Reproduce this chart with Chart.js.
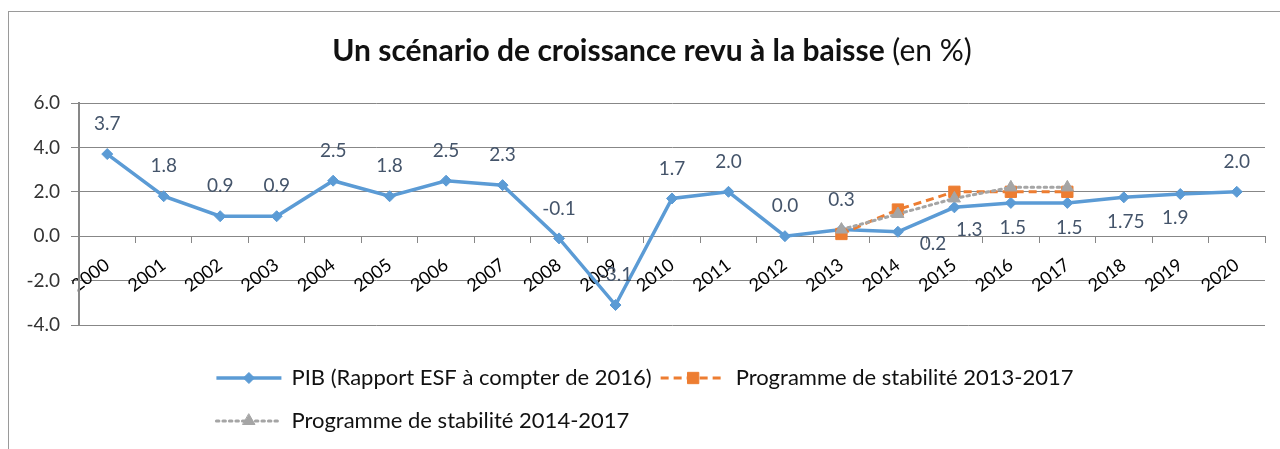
<!DOCTYPE html>
<html><head><meta charset="utf-8">
<script src="https://cdn.jsdelivr.net/npm/chart.js@4.4.0/dist/chart.umd.min.js"></script>
<style>html,body{margin:0;padding:0;background:#fff;} #wrap{width:1280px;height:449px;position:relative;}</style>
</head><body><div id="wrap"><canvas id="c" width="1280" height="449"></canvas></div>
<script>
// ---- data ----
const years = ['2000','2001','2002','2003','2004','2005','2006','2007','2008','2009','2010','2011','2012','2013','2014','2015','2016','2017','2018','2019','2020'];
const pib = [3.7,1.8,0.9,0.9,2.5,1.8,2.5,2.3,-0.1,-3.1,1.7,2.0,0.0,0.3,0.2,1.3,1.5,1.5,1.75,1.9,2.0];
const ps2013 = [null,null,null,null,null,null,null,null,null,null,null,null,null,0.1,1.2,2.0,2.0,2.0,null,null,null];
const ps2014 = [null,null,null,null,null,null,null,null,null,null,null,null,null,0.3,1.0,1.7,2.2,2.2,null,null,null];
const pibLabels = ['3.7','1.8','0.9','0.9','2.5','1.8','2.5','2.3','-0.1','-3.1','1.7','2.0','0.0','0.3','0.2','1.3','1.5','1.5','1.75','1.9','2.0'];
const yTicks = [6,4,2,0,-2,-4];
const seriesNames = ['PIB (Rapport ESF à compter de 2016)','Programme de stabilité 2013-2017','Programme de stabilité 2014-2017'];
const titleBold = 'Un scénario de croissance revu à la baisse';
const titleRest = ' (en %)';

// ---- styling (not data) ----
const FONT = "Lato, 'Liberation Sans', sans-serif";
const labelPlacement = ['a','a','a','a','a','a','a','a','a','a','a','a','a','a','br','bs','b','b','b','bl','a'];
const placeOffsets = {a:[0,-30], b:[2,25], bs:[15,23], br:[35,12], bl:[-5,24]};
const COLORS = {blue:'#5B9BD5', orange:'#ED7D31', gray:'#A5A5A5', grid:'#878787'};

const datasets = [
  {label:seriesNames[0], data:pib, borderColor:COLORS.blue, backgroundColor:COLORS.blue, borderWidth:3.5,
   pointStyle:'rectRot', pointRadius:5.5, pointBorderWidth:1, tension:0, order:3},
  {label:seriesNames[1], data:ps2013, borderColor:COLORS.orange, backgroundColor:COLORS.orange, borderWidth:3,
   borderDash:[8,5], pointStyle:'rect', pointRadius:8, pointBorderWidth:1, tension:0, order:2},
  {label:seriesNames[2], data:ps2014, borderColor:COLORS.gray, backgroundColor:COLORS.gray, borderWidth:3,
   borderDash:[2.5,4], borderCapStyle:'round', pointStyle:'triangle', pointRadius:7, pointBorderWidth:1, tension:0, order:1}
];

function drawMarker(ctx, style, r, x, y) {
  ctx.beginPath();
  if (style === 'rectRot') {
    ctx.moveTo(x, y - r); ctx.lineTo(x + r, y); ctx.lineTo(x, y + r); ctx.lineTo(x - r, y); ctx.closePath();
  } else if (style === 'rect') {
    const s = r * Math.SQRT1_2; ctx.rect(x - s, y - s, 2 * s, 2 * s);
  } else if (style === 'triangle') {
    ctx.moveTo(x, y - r); ctx.lineTo(x + r * 0.866, y + r / 2); ctx.lineTo(x - r * 0.866, y + r / 2); ctx.closePath();
  }
  ctx.fill(); ctx.stroke();
}

const decor = {
  id:'decor',
  beforeDraw(chart){
    const ctx = chart.ctx;
    ctx.save();
    ctx.fillStyle = '#fff'; ctx.fillRect(0,0,chart.width,chart.height);
    ctx.strokeStyle = '#9A9A9A'; ctx.lineWidth = 1;
    ctx.strokeRect(8.5, 11.5, chart.width + 20, chart.height + 20);
    ctx.textBaseline = 'middle';
    ctx.fillStyle = '#111';
    const fb = "bold 30px " + FONT, fr = "30px " + FONT;
    ctx.font = fb; const wb = ctx.measureText(titleBold).width;
    ctx.font = fr; const wr = ctx.measureText(titleRest).width;
    const x0 = 652 - (wb + wr) / 2;
    ctx.textAlign = 'left';
    ctx.font = fb; ctx.fillText(titleBold, x0, 51);
    ctx.font = fr; ctx.fillText(titleRest, x0 + wb, 51);
    ctx.restore();
  },
  afterDatasetsDraw(chart){
    const ctx = chart.ctx;
    const meta = chart.getDatasetMeta(0);
    ctx.save();
    ctx.font = "19px " + FONT;
    ctx.fillStyle = '#44546A';
    ctx.textAlign = 'center'; ctx.textBaseline = 'middle';
    meta.data.forEach((pt, i) => {
      const off = placeOffsets[labelPlacement[i]];
      ctx.fillText(pibLabels[i], pt.x + off[0], pt.y + off[1]);
    });
    ctx.restore();
  },
  afterDraw(chart){
    const ctx = chart.ctx;
    ctx.save();
    ctx.font = "22px " + FONT;
    ctx.textBaseline = 'middle'; ctx.textAlign = 'left';
    const sym = 65, gap = 10, itemGap = 9;
    const w0 = ctx.measureText(seriesNames[0]).width, w1 = ctx.measureText(seriesNames[1]).width;
    const row1 = sym + gap + w0 + itemGap + sym + gap + w1;
    const startX = 645 - row1 / 2;
    const items = [
      {ds:0, x:startX, y:378},
      {ds:1, x:startX + sym + gap + w0 + itemGap, y:378},
      {ds:2, x:startX, y:421}
    ];
    items.forEach(it => {
      const d = chart.data.datasets[it.ds];
      ctx.save();
      ctx.strokeStyle = d.borderColor; ctx.lineWidth = d.borderWidth;
      ctx.setLineDash(d.borderDash || []);
      ctx.lineCap = d.borderCapStyle || 'butt';
      ctx.beginPath(); ctx.moveTo(it.x, it.y); ctx.lineTo(it.x + sym, it.y); ctx.stroke();
      ctx.setLineDash([]);
      ctx.lineWidth = 1; ctx.fillStyle = d.backgroundColor;
      drawMarker(ctx, d.pointStyle, d.pointRadius, it.x + sym / 2, it.y);
      ctx.restore();
      ctx.fillStyle = '#111';
      ctx.fillText(d.label, it.x + sym + gap, it.y);
    });
    ctx.restore();
  }
};

new Chart(document.getElementById('c'), {
  type:'line',
  data:{labels:years, datasets:datasets},
  plugins:[decor],
  options:{
    responsive:false, animation:false,
    layout:{padding:{left:0, right:15, top:103, bottom:124}},
    plugins:{legend:{display:false}, title:{display:false}, tooltip:{enabled:false}},
    scales:{
      x:{
        type:'category', offset:true, position:{y:0},
        afterFit(s){ s.height = 0; },
        grid:{display:true, offset:true, drawOnChartArea:false, drawTicks:true, tickLength:6, color:COLORS.grid, lineWidth:1},
        border:{display:true, color:COLORS.grid, width:1},
        ticks:{autoSkip:false, minRotation:37, maxRotation:37, padding:12, color:'#000', font:{family:FONT, size:18}}
      },
      y:{
        min:-4, max:6,
        afterFit(s){ s.width = 79; },
        afterBuildTicks(s){ s.ticks = yTicks.map(v => ({value:v})); },
        grid:{color:COLORS.grid, lineWidth:1, tickLength:8, drawTicks:true},
        border:{display:true, color:COLORS.grid, width:2},
        ticks:{padding:11, color:'#333', font:{family:FONT, size:19}, callback:v => Number(v).toFixed(1)}
      }
    }
  }
});
</script></body></html>
